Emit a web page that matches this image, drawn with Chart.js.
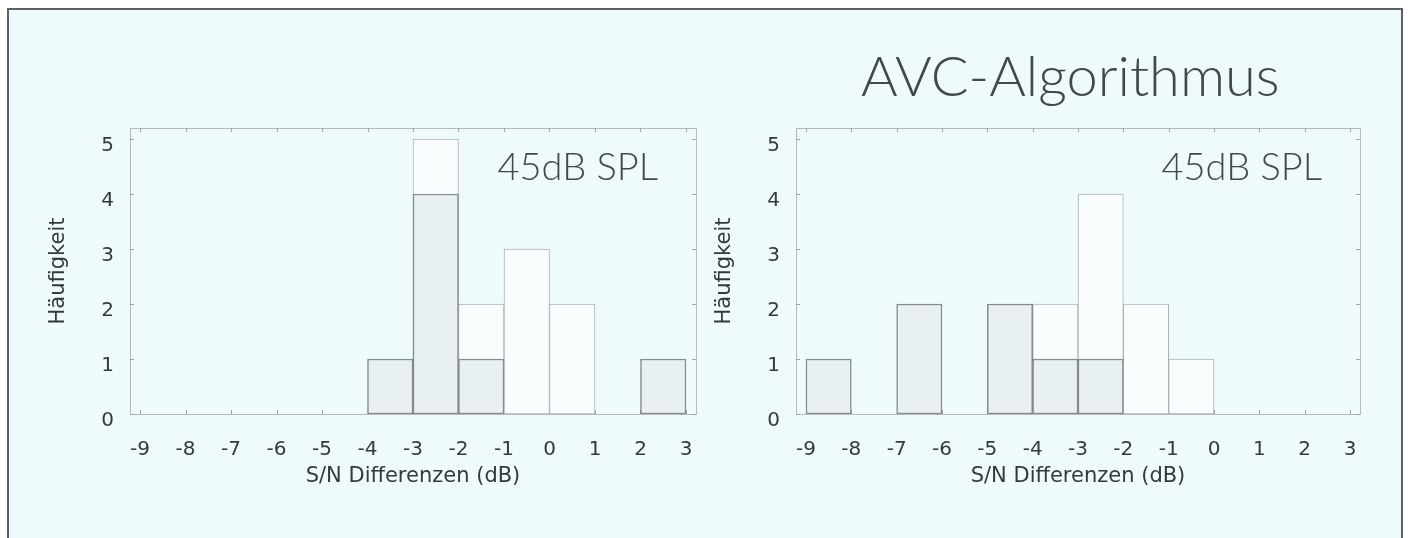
<!DOCTYPE html>
<html>
<head>
<meta charset="utf-8">
<script src="https://cdn.jsdelivr.net/npm/chart.js@4.4.1/dist/chart.umd.min.js"></script>
<style>
  html, body { margin: 0; padding: 0; background: #ffffff; }
  body { width: 1408px; height: 538px; position: relative; overflow: hidden; }
  #panel {
    position: absolute; left: 7px; top: 8px; width: 1396px; height: 560px;
    box-sizing: border-box; border: 2px solid #5e6163; border-bottom: none;
    background: #eefafc;
  }
  #title {
    position: absolute; left: 861px; top: 47px;
    font: 300 56px Lato, "Open Sans", sans-serif; line-height: 56px;
    color: #454849; white-space: nowrap;
  }
  canvas { position: absolute; }
  #left { left: 30px; top: 100px; }
  #right { left: 696px; top: 100px; }
</style>
</head>
<body>
<div id="panel"></div>
<div id="title">AVC-Algorithmus</div>
<canvas id="left" width="690" height="410"></canvas>
<canvas id="right" width="700" height="410"></canvas>
<script>
// Histogrammklassen (linke Klassengrenze in dB), Breite 1 dB
const binStarts = [-9, -8, -7, -6, -5, -4, -3, -2, -1, 0, 1, 2];

// linkes Diagramm
const leftFilled = [0, 0, 0, 0, 0, 1, 4, 1, 0, 0, 0, 1];
const leftOpen   = [0, 0, 0, 0, 0, 0, 5, 2, 3, 2, 0, 0];

// rechtes Diagramm
const rightFilled = [1, 0, 2, 0, 2, 1, 1, 0, 0, 0, 0, 0];
const rightOpen   = [0, 0, 0, 0, 0, 2, 4, 2, 1, 0, 0, 0];

const xTicks = [-9, -8, -7, -6, -5, -4, -3, -2, -1, 0, 1, 2, 3];
const yTicks = [0, 1, 2, 3, 4, 5];

const panelLabel = '45dB SPL';
const xTitle = 'S/N Differenzen (dB)';
const yTitle = 'Häufigkeit';

const textColor = '#363939';
const tickFont = { family: 'DejaVu Sans', size: 20 };

// Rahmen, Teilstriche nach innen und Beschriftung im Diagramm
const framePlugin = {
  id: 'frame',
  beforeDatasetsDraw(chart) {
    const { ctx, chartArea: a, scales: { x, y } } = chart;
    ctx.save();
    ctx.strokeStyle = '#b4babd';
    ctx.lineWidth = 1;
    ctx.strokeRect(Math.round(a.left) + 0.5, Math.round(a.top) + 0.5,
                   Math.round(a.width), Math.round(a.height));
    ctx.strokeStyle = '#9ea4a7';
    ctx.beginPath();
    xTicks.forEach(v => {
      const px = Math.round(x.getPixelForValue(v)) + 0.5;
      ctx.moveTo(px, a.bottom); ctx.lineTo(px, a.bottom - 4);
      ctx.moveTo(px, a.top); ctx.lineTo(px, a.top + 4);
    });
    yTicks.forEach(v => {
      const py = Math.round(y.getPixelForValue(v)) + 0.5;
      ctx.moveTo(a.left, py); ctx.lineTo(a.left + 4, py);
      ctx.moveTo(a.right, py); ctx.lineTo(a.right - 4, py);
    });
    ctx.stroke();
    ctx.restore();
  },
  afterDatasetsDraw(chart, args, opts) {
    const { ctx, chartArea: a } = chart;
    ctx.save();
    ctx.font = '300 38px Lato, "Open Sans", sans-serif';
    ctx.fillStyle = '#454849';
    ctx.textAlign = 'right';
    ctx.textBaseline = 'alphabetic';
    ctx.fillText(opts.label, a.right - 38, a.top + 52);
    ctx.restore();
  }
};

function toPoints(counts) {
  return binStarts.map((s, i) => ({ x: s + 0.5, y: counts[i] === 0 ? null : counts[i] }));
}

function makePanel(id, filled, open, padRight) {
  new Chart(document.getElementById(id), {
    type: 'bar',
    data: {
      datasets: [
        {
          data: toPoints(filled),
          backgroundColor: '#e8f0f3',
          borderColor: '#858b8e',
          borderWidth: 1.5,
          borderSkipped: false
        },
        {
          data: toPoints(open),
          backgroundColor: '#f9fdfe',
          borderColor: '#acb2b5',
          borderWidth: 1,
          borderSkipped: false
        }
      ]
    },
    options: {
      responsive: false,
      animation: false,
      layout: { padding: { top: 21, right: padRight, left: 0, bottom: 0 } },
      datasets: { bar: { grouped: false, barPercentage: 1, categoryPercentage: 1 } },
      plugins: {
        legend: { display: false },
        tooltip: { enabled: false },
        frame: { label: panelLabel }
      },
      scales: {
        x: {
          type: 'linear',
          offset: false,
          min: -9.22,
          max: 3.22,
          afterBuildTicks: s => { s.ticks = xTicks.map(v => ({ value: v })); },
          afterFit: s => { s.height = 96; },
          grid: { display: false, drawTicks: false },
          border: { display: false },
          ticks: { color: textColor, font: tickFont, padding: 24, maxRotation: 0, autoSkip: false },
          title: {
            display: true, text: xTitle, color: textColor,
            font: { family: 'DejaVu Sans', size: 21 }, padding: { top: 0, bottom: 21 }
          }
        },
        y: {
          min: 0,
          max: 5.2,
          afterBuildTicks: s => { s.ticks = yTicks.map(v => ({ value: v })); },
          afterFit: s => { s.width = 100; },
          grid: { display: false, drawTicks: false },
          border: { display: false },
          ticks: { color: textColor, font: tickFont, padding: 16, labelOffset: 7 },
          title: {
            display: true, text: yTitle, color: textColor,
            font: { family: 'DejaVu Sans', size: 21 }, padding: { top: 16, bottom: 0 }
          }
        }
      }
    },
    plugins: [framePlugin]
  });
}

makePanel('left', leftFilled, leftOpen, 24);
makePanel('right', rightFilled, rightOpen, 36);
</script>
</body>
</html>
